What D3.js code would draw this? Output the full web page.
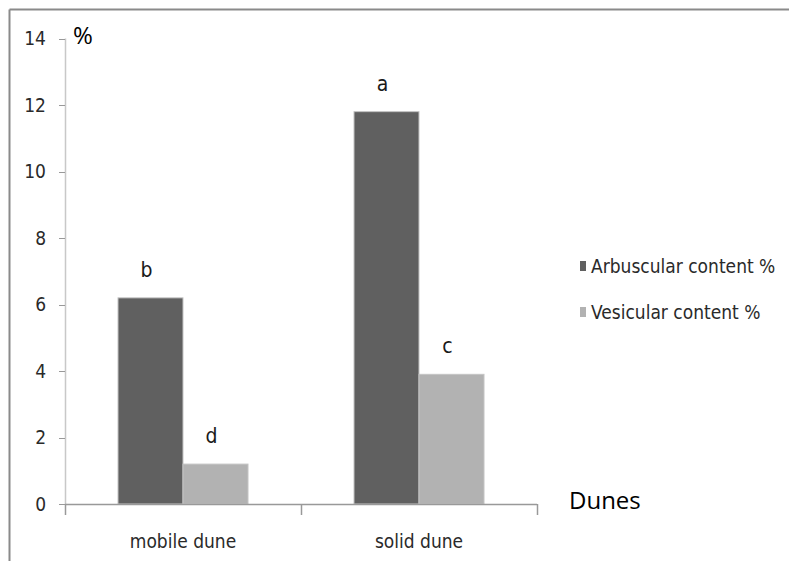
<!DOCTYPE html>
<html><head><meta charset="utf-8">
<script src="https://cdn.jsdelivr.net/npm/d3@7"></script>
<style>
html,body{margin:0;padding:0;background:#fff;}
svg{display:block;}
.nar{font-family:"Liberation Sans Narrow","DejaVu Sans Condensed","Liberation Sans",sans-serif;font-stretch:condensed;}
</style></head>
<body>
<script>
const categories = ["mobile dune", "solid dune"];
const seriesNames = ["Arbuscular content %", "Vesicular content %"];
const arbuscular = [6.2, 11.8];
const vesicular = [1.2, 3.9];
const letters = [["b", "a"], ["d", "c"]];
const yTicks = [0, 2, 4, 6, 8, 10, 12, 14];
const colors = ["#606060", "#b2b2b2"];

const W = 789, H = 561;
const svg = d3.select("body").append("svg").attr("width", W).attr("height", H);

// outer frame
svg.append("line").attr("x1", 9.5).attr("x2", W).attr("y1", 9.5).attr("y2", 9.5).attr("stroke", "#8a8a8a").attr("stroke-width", 2);
svg.append("line").attr("x1", 9.5).attr("x2", 9.5).attr("y1", 9.5).attr("y2", H).attr("stroke", "#8a8a8a").attr("stroke-width", 2);

const x0 = d3.scaleBand().domain(categories).range([65, 537]).paddingInner(0).paddingOuter(0);
const x1 = d3.scaleBand().domain(seriesNames).range([53, x0.bandwidth() - 53]);
const y = d3.scaleLinear().domain([0, 14]).range([504, 38.5]);

// y axis
svg.append("line").attr("x1", 65.5).attr("x2", 65.5).attr("y1", y(14)).attr("y2", y(0)).attr("stroke", "#c8c8c8").attr("stroke-width", 1.5);
yTicks.forEach(t => {
  svg.append("line").attr("x1", 59).attr("x2", 65).attr("y1", Math.round(y(t)) + 0.5).attr("y2", Math.round(y(t)) + 0.5).attr("stroke", "#999");
  svg.append("text").attr("class", "nar").attr("x", 46).attr("y", y(t)).attr("dy", "0.36em")
    .attr("text-anchor", "end").attr("font-size", 19).attr("fill", "#2a2a2a").text(t);
});

// bars
const data = categories.map((c, i) => ({cat: c, vals: [arbuscular[i], vesicular[i]]}));
const g = svg.selectAll("g.grp").data(data).enter().append("g").attr("transform", d => `translate(${x0(d.cat)},0)`);
g.selectAll("rect").data((d, i) => d.vals.map((v, j) => ({v, j, i}))).enter().append("rect")
  .attr("x", d => x1(seriesNames[d.j]))
  .attr("y", d => y(d.v))
  .attr("width", x1.bandwidth())
  .attr("height", d => y(0) - y(d.v))
  .attr("fill", d => colors[d.j])
  .attr("stroke", "#c4c4c4").attr("stroke-width", 1);
g.selectAll("text.lbl").data((d, i) => d.vals.map((v, j) => ({v, j, i}))).enter().append("text")
  .attr("class", "nar")
  .attr("x", d => x1(seriesNames[d.j]) + x1.bandwidth() / 2 - 4)
  .attr("y", d => y(d.v) - 21)
  .attr("text-anchor", "middle").attr("font-size", 21).attr("fill", "#1a1a1a")
  .text(d => letters[d.j][d.i]);

// x axis
svg.append("line").attr("x1", 65).attr("x2", 537).attr("y1", 504.5).attr("y2", 504.5).attr("stroke", "#999").attr("stroke-width", 1.5);
[65, ...categories.map(c => x0(c) + x0.bandwidth())].forEach(px => {
  svg.append("line").attr("x1", px + 0.5).attr("x2", px + 0.5).attr("y1", 504).attr("y2", 515).attr("stroke", "#999").attr("stroke-width", 1.5);
});
categories.forEach(c => {
  svg.append("text").attr("class", "nar").attr("x", x0(c) + x0.bandwidth() / 2).attr("y", 541).attr("dy", "0.35em")
    .attr("text-anchor", "middle").attr("font-size", 19).attr("fill", "#2a2a2a").text(c);
});

// axis titles
svg.append("text").attr("x", 73).attr("y", 44).attr("font-family", "'Open Sans', sans-serif").attr("font-size", 24).attr("fill", "#000").text("%");
svg.append("text").attr("x", 569).attr("y", 509).attr("font-family", "'Open Sans', sans-serif").attr("font-size", 24).attr("fill", "#000").text("Dunes");

// legend
seriesNames.forEach((s, i) => {
  const ly = 266 + i * 46;
  svg.append("rect").attr("x", 580).attr("y", ly - 5).attr("width", 6).attr("height", 10).attr("fill", colors[i]);
  svg.append("text").attr("class", "nar").attr("x", 591).attr("y", ly).attr("dy", "0.36em")
    .attr("font-size", 19).attr("fill", "#2a2a2a").text(s);
});
</script>
</body></html>
